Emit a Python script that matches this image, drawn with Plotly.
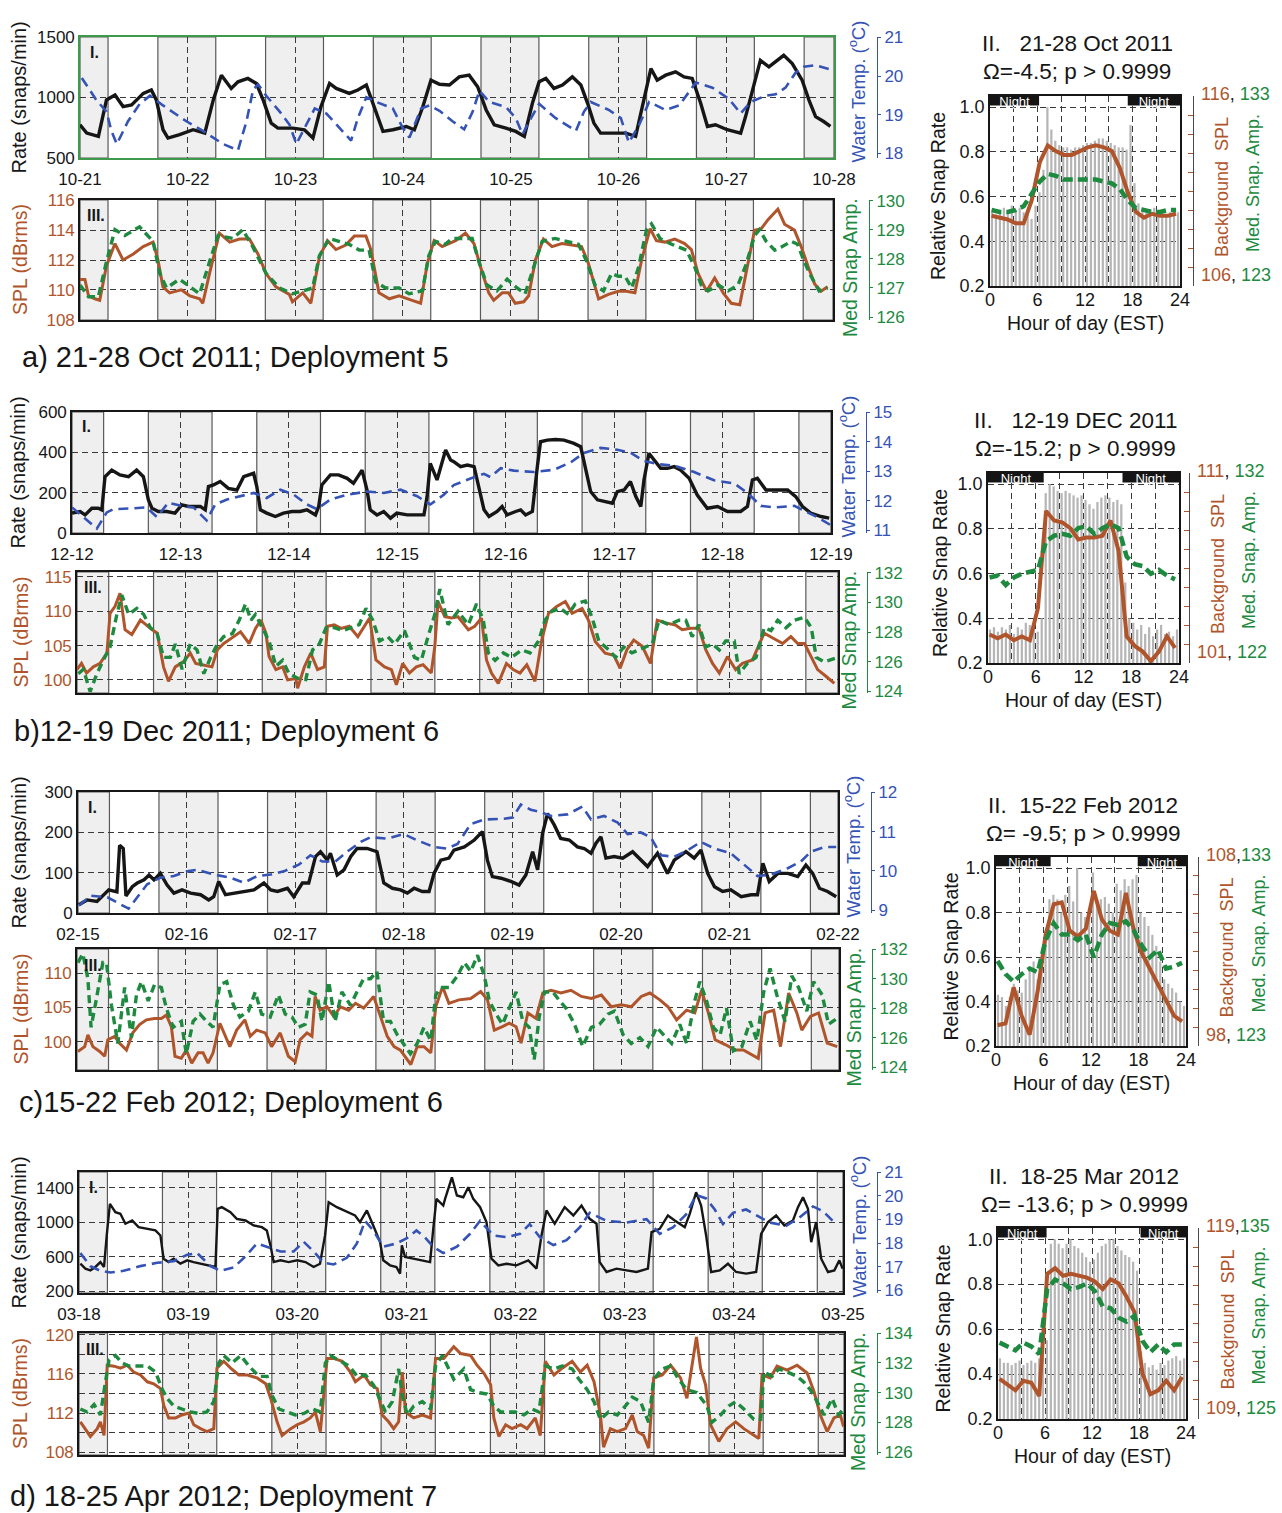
import numpy as np
import pandas as pd
import plotly.graph_objects as go

# ============================ DATA ============================
# time-series data: (hour since start of week, value)
A_TICKS = ["10-21", "10-22", "10-23", "10-24", "10-25", "10-26", "10-27", "10-28"]
B_TICKS = ["12-12", "12-13", "12-14", "12-15", "12-16", "12-17", "12-18", "12-19"]
C_TICKS = ["02-15", "02-16", "02-17", "02-18", "02-19", "02-20", "02-21", "02-22"]
D_TICKS = ["03-18", "03-19", "03-20", "03-21", "03-22", "03-23", "03-24", "03-25"]

A_RATE = [(0,774),(1.5,705),(4.1,678),(5.9,980),(7.8,1020),(9.6,925),(11.5,938),(14.1,1034),(15.9,1062),(17,980),(18.5,733),(19.6,664),(22.2,692),(25.2,733),(27.8,705),(29.7,980),(31.5,1185),(32.6,1130),(33.7,1075),(35.2,1130),(37.4,1158),(39.3,1116),(40.8,980),(42.6,788),(44.1,746),(47.4,746),(50,733),(51.9,664),(53.7,925),(55.6,1116),(57.1,1075),(60,1034),(61.9,1062),(63.8,1103),(66,870),(67.5,719),(69.7,733),(72.7,760),(74.5,733),(76.4,925),(78.2,1144),(80.1,1110),(82.3,1103),(84.5,1171),(86.7,1185),(88.6,1089),(90.5,897),(92.3,774),(94.9,746),(97.1,719),(99,678),(100.8,952),(102.3,1130),(103.8,1158),(105.6,1075),(107.5,1103),(109.7,1171),(111.6,1103),(113.1,952),(114.5,788),(116,705),(118.6,705),(121.6,705),(123.8,678),(125.7,980),(127.2,1240),(128.6,1144),(130.5,1185),(132.7,1212),(134.6,1171),(136.4,1158),(138.3,952),(139.8,760),(141.6,774),(144.2,733),(147.2,705),(148.3,842),(150.1,1103),(151.6,1308),(153.5,1253),(156.8,1349),(158.7,1281),(160.9,1144),(162.4,980),(163.9,842),(165.7,801),(167.2,760)]
A_TEMP = [(0.4,19.95),(3.7,19.37),(5.9,19.08),(7,18.58),(8.2,18.24),(10.7,18.83),(13.3,19.28),(15.6,19.49),(18.5,19.24),(23.7,18.83),(27.4,18.58),(31.9,18.24),(35.2,18.08),(37.1,18.83),(38.6,19.66),(39.7,19.78),(41.5,19.49),(44.5,19.08),(46.7,18.74),(48.2,18.24),(49.7,18.58),(52.3,19.16),(54.9,19.03),(57.8,18.66),(60.4,18.33),(61.9,18.91),(63.8,19.45),(66,19.33),(69.7,19.16),(71.9,18.66),(73.4,18.41),(76,19.16),(77.8,19.24),(80.1,19.1),(83,18.83),(85.6,18.62),(87.5,19.08),(89,19.62),(91.2,19.33),(94.9,19.2),(97.1,18.91),(98.6,18.49),(100.1,18.83),(102.3,19.28),(106,18.91),(110.5,18.58),(112.3,19.08),(113.8,19.33),(117.9,19.12),(120.5,18.91),(122.3,18.28),(124.6,18.74),(126.8,19.33),(130.5,19.12),(133.5,19.24),(137.2,19.83),(140.9,19.7),(144.6,19.41),(147.2,19.03),(149.4,19.33),(152.7,19.49),(155,19.53),(157.2,19.7),(159.4,20.08),(161.3,20.24),(163.9,20.28),(167.6,20.16)]
A_SPL = [(0,110.7),(1.1,110.7),(1.9,109.6),(3.3,109.4),(4.4,109.3),(5.9,111.6),(7.8,113.1),(9.6,112),(11.9,112.4),(14.1,112.9),(16.3,113.2),(17.4,112),(18.5,110.2),(20,109.8),(22.6,110),(24.5,109.6),(26.7,109.4),(27.4,109.1),(28.9,111.1),(31.1,113.8),(33.4,113.2),(35.6,113.4),(37.8,113.4),(39.7,112.4),(41.5,111.1),(43.7,110.2),(46.7,109.7),(47.4,109.2),(49.7,109.8),(51.5,109.1),(53.4,112.2),(55.2,113.3),(57.1,112.7),(59.3,113),(61.2,113.6),(63.8,113.6),(64.9,112.7),(66.7,109.8),(69,109.4),(71.2,109.6),(74.1,109.3),(76,109.1),(77.5,111.8),(79,113.3),(80.8,112.9),(83.8,113.3),(86,113.8),(87.9,113.1),(89.3,111.6),(91.2,109.8),(92.3,109.3),(94.2,109.8),(95.6,109.8),(97.1,109.1),(99,109.2),(100.1,109.6),(101.6,112),(103.4,113.4),(105.3,112.9),(107.5,113.1),(109.7,113),(111.9,112.9),(113.4,111.8),(114.9,110.2),(115.7,109.4),(117.9,109.7),(120.1,109.9),(121.9,109.9),(123.8,109.8),(125.3,112),(127.2,114.1),(128.6,113.3),(130.5,113.2),(132.7,113.4),(134.9,113.1),(136.4,112.7),(137.9,111.1),(139.8,109.9),(141.6,110.8),(143.5,109.8),(145.3,109.1),(147.2,109),(148.6,111.1),(150.5,114),(152,114.1),(153.5,114.7),(155.7,115.4),(157.2,114.4),(159.4,114),(160.9,112.9),(162.4,111.6),(163.9,110.4),(165.3,109.9),(166.8,110.2)]
A_AMP = [(0,127.1),(1.9,126.7),(4.1,126.7),(5.9,127.9),(7.8,129),(10,128.8),(13.3,129.1),(16.3,128.6),(17.8,127.5),(19.3,127),(22.2,127.3),(24.1,127.1),(26.7,126.8),(28.9,127.9),(30.8,128.8),(34.1,128.7),(36.3,129),(38.6,128.4),(41.5,127.5),(44.5,127),(47.4,126.8),(49.7,126.9),(51.9,127),(53.4,128.1),(55.6,128.7),(57.8,128.6),(60,128.5),(62.3,128.3),(64.5,128.3),(66,127.2),(68.2,127),(71.2,127),(73.4,126.8),(76.4,126.9),(77.8,128.1),(79.3,128.6),(81.5,128.5),(83,128.7),(87.5,128.7),(89,127.9),(90.8,127.1),(93,126.9),(95.3,127.3),(97.5,127),(99.3,126.8),(101.2,127.7),(103.1,128.6),(106,128.7),(109,128.6),(111.2,128.5),(113.1,127.9),(114.9,127.1),(116.8,126.9),(118.6,127.5),(120.1,127.4),(121.6,127.4),(123.1,127),(124.6,127.7),(126.4,129),(127.5,129.2),(129.4,128.7),(132,128.5),(135.3,128.3),(137.2,127.7),(138.6,127.1),(140.1,126.9),(142.4,127.1),(144.6,126.9),(146.8,127.1),(148.6,127.8),(150.5,128.8),(151.6,129),(153.1,128.6),(155,128.3),(156.4,128.4),(158.7,128.6),(160.1,128.5),(161.6,127.9),(163.1,127.4),(164.9,126.9),(166.8,127)]

B_RATE = [(0,98),(1.8,106),(2.9,89),(4.4,122),(5.8,122),(6.6,114),(7.3,279),(8.8,312),(10.6,288),(12.5,279),(14.3,312),(15.8,279),(16.9,164),(17.7,122),(19.1,106),(21,106),(22.8,98),(24.3,139),(25.8,131),(28.4,131),(29.5,114),(30.2,230),(31.3,238),(32.8,255),(34.6,221),(36.5,213),(38,279),(40.2,296),(40.9,230),(41.7,114),(43.1,98),(45,81),(46.8,98),(48.7,106),(50.5,106),(52,114),(53.9,89),(54.6,131),(55.3,238),(57.2,288),(59,288),(60.9,271),(62.3,246),(64.2,312),(65.3,213),(66,114),(67.5,89),(69,106),(70.5,73),(71.9,98),(74.2,89),(77.9,89),(78.6,180),(79.3,345),(80.8,263),(82.7,412),(83.8,362),(84.5,354),(86,329),(87.5,337),(89,329),(90.1,213),(91.2,114),(92.3,81),(94.1,106),(95.2,131),(96.3,89),(98.2,106),(99.3,114),(100.4,89),(101.9,106),(103,329),(103.7,453),(105.2,461),(107,464),(108.9,461),(111.1,445),(112.6,428),(113.7,312),(114.8,205),(116.3,164),(117.7,155),(119.6,147),(120.7,205),(122.2,213),(123.6,255),(124.8,180),(125.9,131),(126.6,263),(127.7,395),(128.8,362),(130.3,321),(131.8,321),(133.3,329),(134.7,312),(136.6,271),(138.4,188),(140.6,122),(142.9,131),(145.1,106),(148,106),(149.5,131),(150.6,263),(151.7,271),(153.6,213),(155.4,213),(158.4,213),(160.2,180),(161.7,131),(163.5,98),(165.8,81),(167.6,73)]
B_TEMP = [(0,11.77),(2.1,11.5),(4,11.27),(5.5,11.05),(7.7,11.6),(9.2,11.71),(13.6,11.74),(16.5,11.77),(18.8,11.44),(21.3,11.93),(24.3,11.82),(26.9,11.77),(29.8,11.33),(31.7,11.87),(34.3,12.04),(37.2,12.15),(40.2,12.26),(43.1,12.09),(46.1,12.37),(49.1,12.2),(52,11.87),(54.2,11.71),(57.2,12.04),(60.9,12.2),(65.3,12.31),(69,12.26),(72.7,12.37),(76.4,12.15),(79.3,11.87),(82.3,12.2),(84.5,12.53),(88.2,12.75),(91.2,12.91),(92.6,12.8),(94.9,13.1),(97.8,13.02),(102.2,12.97),(106.7,13.05),(110.4,13.3),(113.3,13.62),(117,13.79),(120.7,13.73),(123.7,13.62),(126.6,13.35),(129.6,13.24),(133.3,13.19),(137.7,12.97),(142.1,12.69),(146.6,12.58),(149.5,12.26),(152.5,11.82),(155.4,11.77),(159.9,11.82),(162.8,11.6),(165,11.44),(168,11.16)]
B_SPL = [(0,101.5),(1,102.4),(2.1,101),(3.6,101.9),(5.1,102.4),(6.6,103.9),(7.3,109.7),(8.4,110.7),(9.5,112.6),(10.6,107.3),(12.1,106.6),(14,108.7),(16.2,107.5),(17.7,106.8),(19.1,101.9),(20.2,99.8),(21.7,101.9),(23.6,102.7),(25,103.9),(26.2,102.4),(27.6,102.2),(29.8,101.9),(31,104.4),(32.4,105.3),(34.6,106.3),(36.1,107),(38,105.3),(39.4,107.5),(40.6,108.7),(41.7,106.8),(42.4,103.4),(43.9,101.5),(45.4,101.9),(46.5,100),(48.3,100.2),(48.7,98.8),(50.2,101.9),(51.6,103.9),(53.1,101.5),(54.6,101.9),(55.3,107.8),(56.8,108),(58.3,107.5),(60.1,107.8),(62,106.3),(63.5,107.8),(64.6,109),(66,102.9),(67.9,101.9),(69.4,101.5),(70.5,99.3),(71.9,102.4),(73.4,101),(74.9,101.9),(76.4,102.2),(78.2,101),(79,104.9),(79.7,111.4),(81.2,109.2),(82.7,109),(84.1,109.2),(86.4,107.3),(87.8,107.8),(89.3,109),(90.4,102.9),(91.5,101),(93,99.5),(94.8,102.4),(96.3,101.5),(97.8,101),(99.3,102.2),(101.1,99.8),(102.6,105.8),(104.1,109.7),(105.9,110.7),(107.8,111.4),(109.3,109.7),(111.5,110.4),(112.9,108.7),(114.4,105.6),(116.6,103.9),(118.5,103.6),(119.9,101.7),(121.4,104.4),(122.9,105.8),(124.8,104.9),(126.6,102.4),(128.1,108.7),(129.9,108.3),(132.1,108),(133.6,107.3),(135.5,107.5),(137.3,107.5),(138.8,104.4),(140.3,102.4),(141.8,101),(143.6,103.4),(145.4,101.5),(146.9,102.4),(149.1,102.9),(151.7,106.8),(153.6,106.1),(155.8,105.3),(157.6,106.3),(159.1,105.3),(160.6,105.3),(162.1,103.4),(163.5,101.5),(165.4,100.5),(167.2,99.5)]
B_AMP = [(0.3,125.2),(1.4,125.5),(2.9,124),(4.4,125.2),(5.8,126.1),(7.3,127),(8.8,129.2),(9.9,130.5),(11.4,129.2),(13.2,129.6),(14.7,129.2),(16.2,128.3),(17.7,127.9),(19.1,126.3),(20.6,126.3),(21.7,127.2),(23.2,125.5),(25,127.2),(26.5,126.8),(28,125.2),(29.5,126.3),(31,127.2),(32.4,127.7),(34.3,127.9),(35.8,128.8),(37.2,129.9),(38.4,128.8),(39.4,129.2),(40.9,128.3),(42.4,127.4),(43.9,125.7),(45.4,126.1),(46.8,125.2),(48.7,124.9),(50.5,124.8),(52,126.8),(53.5,127.2),(55,128.3),(56.8,128.3),(58.7,128.1),(60.5,128.3),(62.3,128.5),(63.8,129.6),(65.3,128.8),(66.8,127.4),(68.6,127.7),(70.1,127.2),(72.3,128.1),(74.5,126.3),(76,126.1),(77.5,127.7),(79,129.2),(80.1,130.9),(81.9,128.5),(84.1,129.4),(86.4,128.5),(88.2,129.9),(89.7,128.8),(90.8,126.6),(92.3,126.1),(94.1,126.6),(95.9,126.3),(98.2,126.8),(100,126.6),(101.9,127.4),(103.3,128.8),(104.8,129.4),(106.7,129.6),(108.5,129.2),(110,129.9),(112.2,130.1),(113.7,129),(115.2,127.4),(117.4,126.8),(118.9,126.3),(120.7,127),(122.5,126.6),(124,126.8),(125.5,127),(127,127.2),(128.5,128.8),(130.7,128.5),(132.9,128.8),(134.4,128.8),(135.8,127.7),(137.3,128.5),(138.8,127),(140.3,127.2),(141.8,126.8),(143.2,127.4),(145.1,127.4),(146.2,125.2),(148,125.9),(149.9,126.3),(151.7,128.3),(153.2,128.1),(154.7,128.8),(156.5,128.3),(158.4,128.8),(160.6,129),(162.1,128.3),(163.2,126.3),(165,126),(168,126.3)]

C_RATE = [(0.2,20),(2,32),(4.2,28),(6.1,49),(6.8,57),(8.6,52),(9.2,168),(10,160),(10.6,42),(12,65),(13.1,74),(14.6,82),(15.7,94),(16.8,82),(18.2,98),(19.7,69),(21.2,49),(23,57),(24.9,49),(27.1,45),(28.9,32),(30,40),(31.1,78),(32.6,45),(34.5,49),(36.7,53),(38.9,57),(41.1,74),(42.6,57),(44.1,53),(46.3,61),(47.7,40),(49.6,74),(51,74),(52.5,140),(53.6,152),(55.1,131),(55.8,148),(57.3,94),(58.8,107),(60.3,140),(61.7,160),(63.9,160),(66.1,152),(67.6,74),(69.5,61),(71.3,57),(72.8,49),(74.3,61),(76.1,53),(77.6,53),(78.7,98),(80.2,131),(82,136),(83.1,156),(85.4,164),(87.6,181),(89.4,202),(90.5,131),(91.6,90),(93.5,86),(95.7,78),(97.5,69),(99,94),(100.5,152),(101.6,107),(102.7,198),(103.8,247),(105.3,218),(106.7,185),(108.6,181),(110.4,164),(111.9,160),(113.4,148),(114.5,173),(115.6,189),(116.7,136),(118.5,140),(120.4,136),(122.6,152),(124.4,131),(125.9,115),(128.1,148),(130.3,98),(131.8,131),(134.4,152),(136.2,136),(137.7,156),(139.2,98),(140.7,65),(142.5,53),(144.3,57),(146.6,40),(148.8,45),(150.2,45),(151.4,123),(152.8,78),(154.7,98),(156.9,98),(159.1,90),(160.9,119),(162.4,98),(163.9,61),(165.7,53),(167.6,40)]
C_TEMP = [(0.2,9.12),(2.8,9.37),(6.5,9.33),(9,9.17),(11.2,9.04),(13.1,9.33),(15.3,9.66),(18.2,9.83),(21.2,9.87),(24.1,9.99),(26.4,10.03),(30,9.91),(33.7,9.83),(36.7,9.7),(39.6,9.87),(42.6,9.91),(45.5,9.99),(48.8,10.16),(51.4,10.4),(54,10.24),(56.9,10.24),(59.5,10.49),(62.5,10.74),(64.7,10.86),(68.4,10.82),(72,10.94),(75,10.78),(78.7,10.61),(81.6,10.57),(83.9,10.69),(86.8,11.19),(89.8,11.31),(94.2,11.33),(96.1,11.36),(97.9,11.69),(100.1,11.56),(102.3,11.5),(104.5,11.4),(108.2,11.44),(111.5,11.64),(113.4,11.31),(116.3,11.4),(119.3,11.23),(121.5,10.94),(124.4,10.98),(126.6,10.86),(128.9,10.4),(131.8,10.36),(134.8,10.53),(137.7,10.74),(140.7,10.57),(144.3,10.45),(147.3,10.16),(150.2,9.87),(153.2,9.91),(156.9,10.07),(159.8,10.24),(162,10.49),(165,10.61),(167.6,10.61)]
C_SPL = [(0.2,98.6),(1.7,99.3),(2.4,101),(3.5,99.3),(5,98.6),(6.1,97.9),(6.8,100.3),(8.3,100.8),(9.4,99.8),(10.9,98.8),(12.3,101.3),(13.8,102.5),(15.3,103.2),(17.1,103.4),(18.6,103.4),(19.7,103.9),(20.8,102.2),(21.6,97.9),(23,97.6),(24.1,98.8),(25.3,96.9),(26.7,98.4),(27.8,98.4),(28.9,96.9),(30,98.4),(31.5,102.7),(33.7,99.3),(35.2,101.7),(37,103.2),(38.2,100.8),(39.6,101.7),(41.5,101.3),(42.9,99.3),(44.8,101.3),(46.6,97.9),(48.1,97.1),(49.2,100.3),(50.7,101.3),(51.8,100.8),(52.5,106.6),(53.6,104.6),(55.1,105.1),(56.6,103.7),(58.1,105.1),(59.9,104.6),(61.4,105.6),(63.2,104.9),(65.4,106.6),(66.9,103.7),(68.4,100.8),(69.9,99.3),(71.3,98.8),(73.6,96.7),(75,99.3),(76.5,99.3),(78,98.4),(79.1,105.1),(80.6,108),(82,105.6),(84.2,106.1),(86.8,106.3),(89,107.3),(90.5,106.1),(92,101.7),(93.8,102.2),(95.3,102.7),(96.8,102.2),(97.9,99.8),(99.4,104.2),(101.2,103.4),(102.7,107.1),(104.5,107.5),(106.7,107.1),(108.9,107.5),(111.2,106.6),(113.4,106.3),(115.6,106.8),(117.8,105.1),(120,105.4),(122.2,105.1),(124.4,106.6),(126.3,107.1),(128.5,106.1),(130.3,105.1),(132.2,103.2),(134.4,104.6),(136.2,104.2),(137.7,107.5),(139.2,104.2),(140.7,100.3),(142.9,99.6),(145.1,98.8),(146.9,98.8),(148.8,98.1),(150.2,97.6),(151.7,104.2),(153.6,104.6),(155.1,99.3),(156.9,107.1),(158.7,104.2),(159.8,101.7),(161.7,103.7),(163.5,104.2),(165.4,99.8),(167.6,99.3)]
C_AMP = [(0.2,131.1),(1.3,131.7),(2.4,130),(3.1,126.7),(4.2,128.5),(5.7,131.1),(6.5,131.1),(7.6,128.2),(9,125.6),(10.5,129.4),(12,126),(13.1,128.9),(14.2,129.8),(15.7,128.5),(17.1,129.6),(18.6,129.4),(19.7,128),(21.2,126.7),(23,127.1),(24.1,124.9),(25.6,127.1),(27.1,127.6),(28.6,127.1),(30,126.7),(31.5,129.6),(33,129.8),(34.5,128.2),(35.9,127.4),(37.8,127.8),(39.3,129.1),(40.7,127.6),(42.6,127.4),(44.4,128.9),(45.9,127.6),(47.4,127.4),(48.8,126.7),(50.3,126.9),(51.4,129.1),(52.9,128.9),(54,127.1),(55.5,129.8),(56.9,127.1),(58.4,129.1),(60.3,128.2),(61.7,129.1),(63.2,130),(64.7,130),(66.1,130.5),(67.6,127.1),(69.1,127.1),(70.6,126.2),(72,125.6),(73.5,124.9),(75,125.6),(76.5,126.7),(78,125.8),(79.1,128.9),(80.2,129.4),(82,129.4),(83.9,130.2),(85.4,131.1),(86.8,130.5),(88.3,131.6),(89.8,130.2),(90.9,128.5),(92.4,127.6),(93.8,126.9),(95.3,128),(96.8,129.1),(98.3,127.1),(99.7,126.7),(100.8,124.5),(101.9,127.4),(103.1,129.1),(104.9,129.1),(106.4,128.5),(107.8,128),(109.7,126.9),(111.5,125.4),(113.4,126.7),(115.2,126.9),(117.1,127.6),(118.5,127.8),(120.4,126.2),(122.2,125.6),(124.1,126),(125.9,125.4),(127.8,126.7),(129.2,126.2),(131.1,125.6),(132.9,126.9),(134.4,125.6),(136.2,128.5),(137.3,129.8),(138.8,128.5),(140.3,126.7),(141.8,126.2),(143.2,128),(144.7,125.1),(146.6,125.4),(148.4,127.1),(149.9,125.8),(151.4,129.1),(152.8,130.7),(154.3,128.9),(156.1,127.1),(157.6,130.2),(159.1,129.4),(160.9,127.8),(162.4,129.8),(164.3,128.9),(165.7,126.9),(168,127.4)]

D_RATE = [(0.3,519),(1.4,462),(2.5,442),(3.6,481),(4.7,538),(5.5,481),(6.1,846),(6.8,1212),(8,1115),(9.1,1096),(10.2,981),(11.7,1019),(13.1,942),(15,923),(16.8,904),(17.9,846),(18.6,577),(19.7,538),(20.8,577),(22.3,519),(23.8,558),(25.2,538),(26.7,519),(28.1,500),(30,481),(30.5,1154),(31.4,1173),(33.3,1115),(34.7,1038),(36.6,1019),(38.4,962),(40.2,942),(41.3,904),(42.1,731),(42.8,538),(44.3,558),(46.1,538),(48,558),(49.8,538),(51.6,481),(53,519),(54.1,846),(54.9,1231),(56.7,1173),(58.9,1115),(60.7,1077),(61.8,1000),(63.3,1135),(64.7,962),(66.2,769),(66.9,558),(68.4,500),(69.8,481),(70.6,404),(71,731),(71.7,596),(73.5,577),(75.4,558),(77.2,538),(77.9,923),(78.6,1269),(80.1,1192),(80.5,1269),(82,1519),(83.1,1308),(84.5,1288),(85.6,1404),(86.7,1269),(88.2,1173),(89.6,1000),(90.7,577),(92.2,500),(94,519),(96.2,500),(98.8,558),(100.6,462),(101.7,846),(102.8,1135),(104.6,981),(106.8,1173),(108.7,1077),(110.5,1192),(112.3,1038),(113.8,981),(114.5,538),(116,423),(118.2,462),(120.4,442),(122.6,423),(125.1,462),(125.9,885),(127.7,923),(129.5,1077),(131,1019),(133.2,942),(134.3,1096),(135.7,1346),(136.8,1192),(137.9,846),(139,423),(140.9,442),(142.7,519),(144.5,423),(146.7,404),(148.9,423),(150,865),(151.5,1000),(153.3,1077),(155.1,962),(157,1019),(158.1,1173),(159.2,1288),(160.3,1154),(161,769),(162.1,1000),(163.2,577),(164.7,423),(166.1,442),(167.2,558),(167.9,462)]
D_TEMP = [(0.3,17.57),(2.5,17.02),(4.7,16.82),(6.9,16.75),(9.8,16.82),(13.5,17.02),(17.2,17.16),(20.8,17.23),(23.8,17.5),(26,17.57),(28.9,17.02),(31.1,16.82),(34,16.96),(36.6,17.43),(39.1,17.98),(41.3,17.84),(44.3,17.64),(47.2,17.64),(49.4,18.05),(51.6,17.64),(53.8,17.16),(56,17.09),(58.9,17.37),(61.1,17.98),(62.9,18.94),(64.7,18.53),(66.9,17.84),(69.8,17.98),(72,18.19),(74.2,18.53),(76,18.25),(77.9,17.84),(80.1,17.57),(83.1,17.84),(86,18.39),(88.2,18.94),(91.1,18.32),(94,18.25),(97,18.39),(99.1,18.8),(101.3,18.25),(104.3,17.91),(107.2,18.12),(110.1,18.66),(112.3,19.28),(116,18.94),(120.4,18.87),(124.8,19.01),(127.7,18.39),(130.6,18.66),(133.5,19.21),(135.7,20.03),(137.9,19.89),(139.8,19.42),(141.6,18.8),(143.8,19.28),(146.7,19.42),(149.3,19.14),(151.8,18.87),(155.5,18.73),(158.4,19.07),(161.4,19.55),(163.6,19.35),(166.1,18.87)]
D_SPL = [(0.3,111.1),(1.4,110.4),(2.5,109.6),(4,110.4),(4.7,111.1),(5.5,109.7),(6.2,116.9),(7.7,116.8),(9.1,116.6),(10.6,116.9),(12,116.2),(13.5,115.9),(15,115.2),(16.4,115),(17.9,114.5),(18.6,112.8),(19.7,111.5),(21.2,111.5),(22.6,111.8),(24.1,112),(25.2,110.8),(26.7,110.4),(28.1,110.1),(29.6,110.4),(30.3,116.6),(31.8,117.3),(33.3,116.6),(35.1,115.9),(37,115.9),(39.1,115.6),(41,115),(42.1,113.5),(43.5,111.1),(44.6,109.7),(46.5,110.4),(47.9,110.8),(49.4,111.1),(50.8,111.5),(51.9,112.1),(53,110.1),(54.5,117.6),(56,117.6),(57.8,117.3),(59.6,116.2),(60.7,115.2),(62.6,115.9),(64,114.9),(65.5,114.5),(66.6,111.8),(68,111.1),(69.1,110.4),(70.2,111.1),(71,116.2),(71.7,112.1),(73.5,111.5),(75.4,111.8),(77.2,111.5),(78.3,117.6),(80.1,117.6),(82.3,118.8),(83.8,118.1),(86,117.9),(87.4,116.9),(88.9,116.1),(90.4,114.9),(91.1,111.5),(92.2,109.6),(93.7,110.8),(95.1,110.4),(97,110.8),(98.4,110.4),(100.2,111.5),(101.3,109.7),(102.4,117.3),(104.3,115.9),(106.1,116.6),(108.3,117.3),(110.1,116.2),(111.6,116.9),(113.1,115.2),(114.5,111.8),(115.2,108.5),(116.7,110.4),(118.2,110.1),(120,110.4),(121.5,111.8),(122.6,110.1),(124,109.7),(125.1,108.4),(126.2,115.6),(128.1,115.9),(129.9,116.9),(132.1,115.6),(133.5,113.5),(134.6,116.6),(135.6,119.8),(136.5,116.6),(137.6,114.9),(138.7,110.8),(140.5,109.1),(142.3,110.4),(144.2,111.1),(146,110.4),(148.2,109.7),(149.3,109.4),(150,115.9),(151.8,115.6),(153.3,116.8),(155.5,116.4),(157.7,116.9),(159.9,116.1),(161.4,114.2),(162.8,111.8),(164.3,110.1),(165.8,111.5),(167.2,111.8),(167.9,110.6)]
D_AMP = [(0.3,128.9),(1.8,128.7),(3.3,129.2),(4.7,128.5),(5.8,130.7),(6.6,132.2),(8,132.5),(9.5,132),(10.9,131.8),(12.8,131.8),(15,131.8),(16.8,131.4),(18.3,130.2),(19.4,129.6),(20.8,129.1),(22.6,128.9),(24.5,128.7),(26.3,128.6),(28.1,128.7),(29.6,129.4),(30.7,132),(31.8,132.5),(33.6,132),(35.5,132.5),(37.3,131.8),(39.5,131.1),(41.3,131.1),(42.4,129.8),(43.9,128.9),(45.7,128.7),(47.5,128.5),(49.4,128.6),(51.2,128.9),(53,128.7),(54.1,132),(55.2,132.5),(57.1,132.2),(59.3,131.8),(61.1,131.1),(62.9,131.2),(64.7,130.5),(66.2,129.4),(67.3,128.7),(68.8,129.4),(70.2,131.6),(71,129.8),(72.1,128.5),(73.5,129.1),(75.4,129.4),(77.2,128.9),(78.3,131.8),(79.8,132.5),(81.3,131.6),(82.3,130.9),(84.5,131.6),(86,130.2),(87.8,130),(89.6,129.9),(91.1,129.1),(92.6,128.7),(94,128.7),(95.8,128.7),(97.7,128.5),(99.5,128.9),(101,128.7),(102.4,131.8),(104.3,131.6),(106.1,131.8),(108.3,131.6),(109.8,130.9),(111.6,130.2),(113.1,129.4),(114.5,128.2),(116.3,128.7),(118.2,128.5),(120,129.1),(121.5,129.7),(123.3,129.4),(125.1,128),(126.2,130.9),(128.1,131.6),(129.9,131.8),(131.7,130.9),(133.5,130.2),(135.7,130),(137.9,129.1),(139,128),(140.9,128.5),(142.7,129.1),(144.2,129.4),(146,128.9),(148.2,128.2),(149.7,128.2),(150.4,131.4),(152.2,131.1),(153.7,131.6),(155.5,131.4),(157.7,131.1),(159.2,130.7),(160.6,130.2),(162.1,129.4),(163.6,128.5),(165.4,129.6),(166.8,128.5),(167.9,128.9)]

# daily-cycle panels (II): 48 half-hour relative snap-rate bars, hourly SPL and amplitude
A_BARS = [0.53,0.52,0.54,0.55,0.53,0.56,0.54,0.55,0.53,0.52,0.50,0.56,0.62,0.72,1.00,0.90,0.85,0.83,0.82,0.82,0.81,0.82,0.82,0.83,0.84,0.84,0.85,0.86,0.86,0.85,0.84,0.83,0.82,0.82,0.81,0.92,0.66,0.57,0.55,0.54,0.53,0.55,0.53,0.54,0.52,0.53,0.54,0.53]
B_BARS = [0.35,0.36,0.34,0.36,0.35,0.37,0.33,0.36,0.35,0.38,0.37,0.36,0.34,0.40,0.96,1.00,0.99,0.97,0.96,0.97,0.96,0.95,0.94,0.95,0.93,0.91,0.89,0.92,0.94,0.95,0.94,0.92,0.93,0.91,0.56,0.40,0.38,0.35,0.37,0.33,0.36,0.32,0.35,0.37,0.33,0.34,0.32,0.35]
C_BARS = [0.43,0.42,0.38,0.42,0.48,0.45,0.44,0.50,0.55,0.58,0.50,0.60,0.72,0.86,0.88,0.86,0.80,0.88,0.92,0.85,1.00,0.80,0.78,0.82,0.98,0.84,0.86,0.87,0.84,0.80,0.93,0.90,0.95,0.92,0.95,0.97,0.80,0.78,0.74,0.70,0.65,0.58,0.50,0.48,0.46,0.44,0.40,0.38]
D_BARS = [0.47,0.45,0.45,0.44,0.45,0.46,0.44,0.45,0.46,0.45,0.47,0.50,0.55,0.98,1.00,0.98,0.96,0.98,1.00,0.97,0.96,0.94,0.92,0.90,0.91,0.94,0.97,0.98,1.00,1.00,0.97,0.95,0.93,0.92,0.90,0.86,0.50,0.45,0.43,0.44,0.42,0.45,0.44,0.46,0.47,0.48,0.46,0.47]

A_HOUR_SPL = [109.7,109.6,109.5,109.3,109.3,110.5,112.5,113.4,113.1,112.9,112.9,113.1,113.3,113.4,113.3,113.1,112.2,110.9,109.9,109.6,109.8,109.7,109.7,109.8]
A_HOUR_AMP = [127.0,126.9,126.9,127.0,127.2,127.9,128.5,128.9,128.8,128.6,128.6,128.6,128.6,128.6,128.5,128.4,128.1,127.5,127.1,127.0,126.9,126.9,127.0,127.0]
B_HOUR_SPL = [102.5,102.3,102.5,102.2,102.4,102.2,103.9,109.0,108.5,108.4,108.1,107.5,107.6,107.6,107.7,108.5,106.9,102.4,101.9,101.6,101.1,101.6,102.4,101.8]
B_HOUR_AMP = [126.5,126.6,126.1,126.5,126.7,126.8,126.9,128.4,128.7,128.8,128.7,129.1,129.2,128.8,129.1,129.3,129.1,127.6,127.2,127.1,126.7,126.9,126.6,126.4]
C_HOUR_SPL = [99.1,99.2,101.1,99.6,98.6,100.9,103.9,105.5,105.6,104.1,103.8,104.2,106.2,104.7,104.1,103.9,106.1,104.1,102.9,102.1,101.3,100.4,99.6,99.3]
C_HOUR_AMP = [127.5,126.8,126.4,126.8,127.1,126.9,128.6,129.5,128.9,128.9,128.6,128.9,127.7,128.9,129.5,129.4,129.6,129.1,128.3,127.7,128.1,127.1,127.2,127.4]
D_HOUR_SPL = [111.1,110.8,110.5,111.0,110.9,110.2,116.6,116.9,116.5,116.6,116.5,116.4,116.2,115.8,116.3,116.1,115.4,114.6,111.4,110.3,110.5,111.0,110.5,111.2]
D_HOUR_AMP = [129.0,128.8,128.6,129.0,128.8,128.4,131.8,132.3,132.1,131.8,131.9,132.1,131.7,130.9,130.8,130.3,130.1,130.4,129.1,128.5,128.9,128.5,128.9,128.9]

HOUR_TICKS = [0, 6, 12, 18, 24]
HOUR_TEXT = ["0", "6", "12", "18", "24"]
REL_TICKS = [0.2, 0.4, 0.6, 0.8, 1.0]
REL_TEXT = ["0.2", "0.4", "0.6", "0.8", "1.0"]

# ============================ STYLE / LAYOUT ============================
W, H = 1282, 1513
FONT = "Liberation Sans, Arial, Helvetica, sans-serif"
INK = "#161616"
BLUE = "#3553b5"
BROWN = "#b0552b"
GREEN = "#1d8a3f"
NIGHT_FILL = "#efefef"
GRID = "#3a3a3a"
GDASH = "6px,4px"

def fx(p):
    return p / W

def fy(p):
    return 1.0 - p / H

ROWS = [
    dict(start="2011-10-21", ticks=A_TICKS, rate=A_RATE, temp=A_TEMP, spl=A_SPL, amp=A_AMP,
         bars=A_BARS, hspl=A_HOUR_SPL, hamp=A_HOUR_AMP, sunrise=6.25, sunset=17.35,
         I=(80, 834, 37, 158), III=(80, 833, 200, 320), II=(990, 1180, 96, 286),
         frame="#3d9a4c", rate_range=(499, 1501), rate_ticks=[500, 1000, 1500],
         temp_range=(17.88, 21.01), temp_ticks=[18, 19, 20, 21], temp_pos=877,
         spl_range=(107.98, 116.02), spl_ticks=[108, 110, 112, 114, 116], spl_minor=None,
         amp_range=(125.9, 130.02), amp_ticks=[126, 127, 128, 129, 130], amp_pos=869,
         ii_pos=1193, ii_spl=(106, 116), ii_amp=(123, 133), night=[(0, 6.2), (17.4, 24)],
         t1="II.\u00a0\u00a0 21-28 Oct 2011", t2="\u03a9=-4.5; p > 0.9999",
         top=("116", "133", ", "), bot=("106", "123", ", "),
         label="a) 21-28 Oct 2011; Deployment 5", label_xy=(20, 357), rel_x=938, rate_w=3.4),
    dict(start="2011-12-12", ticks=B_TICKS, rate=B_RATE, temp=B_TEMP, spl=B_SPL, amp=B_AMP,
         bars=B_BARS, hspl=B_HOUR_SPL, hamp=B_HOUR_AMP, sunrise=7.0, sunset=16.9,
         I=(72, 831, 412, 533), III=(77, 838, 572, 693), II=(988, 1179, 473, 663),
         frame=INK, rate_range=(-1, 601), rate_ticks=[0, 200, 400, 600],
         temp_range=(10.9, 15.01), temp_ticks=[11, 12, 13, 14, 15], temp_pos=866,
         spl_range=(98.1, 115.7), spl_ticks=[100, 105, 110, 115], spl_minor=None,
         amp_range=(123.9, 132.05), amp_ticks=[124, 126, 128, 130, 132], amp_pos=867,
         ii_pos=1189, ii_spl=(101, 111), ii_amp=(122, 132), night=[(0, 7.0), (16.9, 24)],
         t1="II.\u00a0\u00a0 12-19 DEC 2011", t2="\u03a9=-15.2; p > 0.9999",
         top=("111", "132", ", "), bot=("101", "122", ", "),
         label="b)12-19 Dec 2011; Deployment 6", label_xy=(12, 731), rel_x=940, rate_w=3.4),
    dict(start="2012-02-15", ticks=C_TICKS, rate=C_RATE, temp=C_TEMP, spl=C_SPL, amp=C_AMP,
         bars=C_BARS, hspl=C_HOUR_SPL, hamp=C_HOUR_AMP, sunrise=6.95, sunset=17.9,
         I=(78, 838, 792, 913), III=(77, 839, 949, 1070), II=(996, 1186, 857, 1046),
         frame=INK, rate_range=(-0.5, 300.5), rate_ticks=[0, 100, 200, 300],
         temp_range=(8.93, 12.01), temp_ticks=[9, 10, 11, 12], temp_pos=871,
         spl_range=(95.9, 113.5), spl_ticks=[100, 105, 110], spl_minor=None,
         amp_range=(123.8, 132.02), amp_ticks=[124, 126, 128, 130, 132], amp_pos=872,
         ii_pos=1198, ii_spl=(98, 108), ii_amp=(123, 133), night=[(0, 6.9), (17.9, 24)],
         t1="II.\u00a0 15-22 Feb 2012", t2="\u03a9= -9.5; p > 0.9999",
         top=("108", "133", ","), bot=("98", "123", ", "),
         label="c)15-22 Feb 2012; Deployment 6", label_xy=(17, 1102), rel_x=950, rate_w=3.4),
    dict(start="2012-03-18", ticks=D_TICKS, rate=D_RATE, temp=D_TEMP, spl=D_SPL, amp=D_AMP,
         bars=D_BARS, hspl=D_HOUR_SPL, hamp=D_HOUR_AMP, sunrise=6.25, sunset=18.35,
         I=(79, 843, 1172, 1293), III=(79, 844, 1333, 1455), II=(998, 1186, 1228, 1419),
         frame=INK, rate_range=(180, 1580), rate_ticks=[200, 600, 1000, 1400],
         temp_range=(15.88, 21.01), temp_ticks=[16, 17, 18, 19, 20, 21], temp_pos=877,
         spl_range=(107.7, 120.2), spl_ticks=[108, 112, 116, 120], spl_minor=[110, 114, 118],
         amp_range=(125.8, 134.02), amp_ticks=[126, 128, 130, 132, 134], amp_pos=877,
         ii_pos=1198, ii_spl=(109, 119), ii_amp=(125, 135), night=[(0, 6.2), (18.2, 24)],
         t1="II.\u00a0 18-25 Mar 2012", t2="\u03a9= -13.6; p > 0.9999",
         top=("119", "135", ","), bot=("109", "125", ", "),
         label="d) 18-25 Apr 2012; Deployment 7", label_xy=(8, 1496), rel_x=942, rate_w=2.4),
]

# ============================ BUILD ============================
axis_n = {"x": 0, "y": 0}


def new_axis(kind):
    axis_n[kind] += 1
    n = axis_n[kind]
    ref = kind if n == 1 else f"{kind}{n}"
    key = f"{kind}axis" if n == 1 else f"{kind}axis{n}"
    return ref, key


def to_dates(start, hours):
    base = pd.Timestamp(start)
    return [(base + pd.Timedelta(hours=float(h))).strftime("%Y-%m-%d %H:%M:%S") for h in hours]


def unzip(pairs):
    return [p[0] for p in pairs], [p[1] for p in pairs]


fig = go.Figure()
axes = {}
shapes = []
ann = []


def text(x, y, s, size, color=INK, angle=0, xanchor="center", yanchor="middle", bold=False):
    if bold:
        s = f"<b>{s}</b>"
    ann.append(dict(x=fx(x), y=fy(y), xref="paper", yref="paper", text=s, showarrow=False,
                    font=dict(size=size, color=color, family=FONT), textangle=angle,
                    xanchor=xanchor, yanchor=yanchor))


def night_spans(sunrise, sunset):
    spans = [(0.0, sunrise)]
    for d in range(7):
        spans.append((d * 24 + sunset, min((d + 1) * 24 + sunrise, 168.0)))
    return spans


def grid_minor(vals):
    return dict(tickvals=vals, showgrid=True, gridcolor=GRID, griddash=GDASH, gridwidth=1, ticks="")


def time_axes(cfg, box, frame, show_labels, left_range, left_ticks, left_minor, left_color,
              right_range, right_ticks, right_color, right_pos):
    x0, x1, y0, y1 = box
    xr, xk = new_axis("x")
    yl, ylk = new_axis("y")
    yrr, yrk = new_axis("y")
    day_dates = to_dates(cfg["start"], [24 * i for i in range(8)])
    axes[xk] = dict(domain=[fx(x0), fx(x1)], anchor=yl, type="date",
                    range=[day_dates[0], day_dates[-1]], tickvals=day_dates,
                    ticktext=cfg["ticks"], showticklabels=show_labels,
                    showgrid=True, gridcolor=GRID, griddash=GDASH, gridwidth=1,
                    showline=True, mirror=True, linecolor=frame, linewidth=1.6,
                    ticks="", ticklabelstandoff=5, tickfont=dict(size=17, color=INK), zeroline=False)
    ydict = dict(domain=[fy(y1), fy(y0)], anchor=xr, range=list(left_range),
                 tickvals=left_ticks, showgrid=True, gridcolor=GRID, griddash=GDASH, gridwidth=1,
                 showline=True, mirror=True, linecolor=frame, linewidth=1.6, ticks="",
                 tickfont=dict(size=17, color=left_color), zeroline=False)
    if left_minor is not None:
        ydict["minor"] = grid_minor(left_minor)
    axes[ylk] = ydict
    axes[yrk] = dict(overlaying=yl, side="right", anchor="free", position=fx(right_pos),
                     range=list(right_range), tickvals=right_ticks, showgrid=False,
                     showline=True, linecolor=right_color, linewidth=1, ticks="outside",
                     ticklen=3, tickcolor=right_color, tickfont=dict(size=17, color=right_color),
                     zeroline=False)
    # night shading
    for a, b in night_spans(cfg["sunrise"], cfg["sunset"]):
        da, db = to_dates(cfg["start"], [a, b])
        shapes.append(dict(type="rect", xref=xr, yref=f"{yl} domain", x0=da, x1=db, y0=0, y1=1,
                           fillcolor=NIGHT_FILL, line=dict(color="#5a5a5a", width=1.2), layer="below"))
    return xr, yl, yrr


for cfg in ROWS:
    # ---------------- Panel I : snap rate + water temperature ----------------
    xr, yl, yt = time_axes(cfg, cfg["I"], cfg["frame"], True, cfg["rate_range"], cfg["rate_ticks"],
                           None, INK, cfg["temp_range"], cfg["temp_ticks"], BLUE, cfg["temp_pos"])
    h, v = unzip(cfg["rate"])
    fig.add_trace(go.Scatter(x=to_dates(cfg["start"], h), y=v, mode="lines", xaxis=xr, yaxis=yl,
                             line=dict(color=INK, width=cfg["rate_w"])))
    h, v = unzip(cfg["temp"])
    fig.add_trace(go.Scatter(x=to_dates(cfg["start"], h), y=v, mode="lines", xaxis=xr, yaxis=yt,
                             line=dict(color=BLUE, width=2.6, dash="10px,6px")))

    # ---------------- Panel III : SPL + median snap amplitude ----------------
    xr3, yl3, ya3 = time_axes(cfg, cfg["III"], INK, False, cfg["spl_range"], cfg["spl_ticks"],
                              cfg["spl_minor"], BROWN, cfg["amp_range"], cfg["amp_ticks"], GREEN,
                              cfg["amp_pos"])
    h, v = unzip(cfg["spl"])
    fig.add_trace(go.Scatter(x=to_dates(cfg["start"], h), y=v, mode="lines", xaxis=xr3, yaxis=yl3,
                             line=dict(color=BROWN, width=3.0)))
    h, v = unzip(cfg["amp"])
    fig.add_trace(go.Scatter(x=to_dates(cfg["start"], h), y=v, mode="lines", xaxis=xr3, yaxis=ya3,
                             line=dict(color=GREEN, width=3.4, dash="8px,5px")))

    # ---------------- Panel II : daily cycle ----------------
    x0, x1, y0, y1 = cfg["II"]
    x2, x2k = new_axis("x")
    yb, ybk = new_axis("y")
    ys, ysk = new_axis("y")
    yg, ygk = new_axis("y")
    axes[x2k] = dict(domain=[fx(x0), fx(x1)], anchor=yb, range=[0, 24], tickvals=HOUR_TICKS,
                     ticktext=HOUR_TEXT, showgrid=True, gridcolor=GRID, griddash=GDASH, gridwidth=1,
                     minor=grid_minor([3, 9, 15, 21]), ticklabelstandoff=-3,
                     showline=True, mirror=True, linecolor=INK, linewidth=1.6, ticks="",
                     tickfont=dict(size=18, color=INK), zeroline=False)
    axes[ybk] = dict(domain=[fy(y1), fy(y0)], anchor=x2, range=[0.2, 1.05], tickvals=REL_TICKS,
                     ticktext=REL_TEXT, showgrid=True, gridcolor=GRID, griddash=GDASH, gridwidth=1,
                     showline=True, mirror=True, linecolor=INK, linewidth=1.6, ticks="",
                     tickfont=dict(size=18, color=INK), zeroline=False)
    axes[ysk] = dict(overlaying=yb, side="right", anchor="free", position=fx(cfg["ii_pos"]),
                     range=list(cfg["ii_spl"]), tick0=cfg["ii_spl"][0], dtick=1, ticks="inside",
                     ticklen=5, tickcolor=BROWN, showticklabels=False, showline=True,
                     linecolor="#4a4a4a", linewidth=1, showgrid=False, zeroline=False)
    axes[ygk] = dict(overlaying=yb, anchor=x2, range=list(cfg["ii_amp"]), visible=False)

    bar_x = np.arange(len(cfg["bars"])) * 0.5 + 0.25
    fig.add_trace(go.Bar(x=bar_x, y=cfg["bars"], xaxis=x2, yaxis=yb, width=0.28,
                         marker=dict(color="#b5b5b5", line=dict(width=0))))
    hx = np.linspace(0.2, 23.5, len(cfg["hspl"]))
    fig.add_trace(go.Scatter(x=hx, y=cfg["hspl"], mode="lines", xaxis=x2, yaxis=ys,
                             line=dict(color=BROWN, width=4)))
    fig.add_trace(go.Scatter(x=hx, y=cfg["hamp"], mode="lines", xaxis=x2, yaxis=yg,
                             line=dict(color=GREEN, width=4.5, dash="10px,5px")))
    for a, b in cfg["night"]:
        shapes.append(dict(type="rect", xref=x2, yref=yb, x0=a, x1=b, y0=1.008, y1=1.05,
                           fillcolor="#141414", line=dict(width=0), layer="above",
                           label=dict(text="Night", font=dict(color="#ffffff", size=13, family=FONT),
                                      textposition="middle center")))

    # ---------------- texts ----------------
    ix0, ix1, iy0, iy1 = cfg["I"]
    jx0, jx1, jy0, jy1 = cfg["III"]
    text(ix0 + 8, iy0 + 15, "I.", 16, bold=True, xanchor="left")
    text(jx0 + 5, jy0 + 16, "III.", 16, bold=True, xanchor="left")
    text(18, (iy0 + iy1) / 2, "Rate (snaps/min)", 20, INK, angle=-90)
    text(20, (jy0 + jy1) / 2, "SPL (dBrms)", 19.5, BROWN, angle=-90)
    text(cfg["temp_pos"] - 19, (iy0 + iy1) / 2 - 6, "Water Temp. (<sup>o</sup>C)", 18.5, BLUE, angle=-90)
    text(cfg["amp_pos"] - 19, (jy0 + jy1) / 2 + 8, "Med Snap Amp.", 19.5, GREEN, angle=-90)
    lx, ly = cfg["label_xy"]
    text(lx, ly, cfg["label"], 29, INK, xanchor="left")

    cx = (x0 + x1) / 2
    text(cx - 8, y0 - 52, cfg["t1"], 22.5, INK)
    text(cx - 8, y0 - 24, cfg["t2"], 22.5, INK)
    text(cfg["rel_x"], (y0 + y1) / 2 + 5, "Relative Snap Rate", 19.5, INK, angle=-90)
    text(cx, y1 + 37, "Hour of day (EST)", 19.5, INK)
    rp = cfg["ii_pos"]
    t = cfg["top"]
    text(rp + 6, y0 - 2, f'<span style="color:{BROWN}">{t[0]}</span>{t[2]}<span style="color:{GREEN}">{t[1]}</span>',
         18, INK, xanchor="left")
    t = cfg["bot"]
    text(rp + 6, y1 - 11, f'<span style="color:{BROWN}">{t[0]}</span>{t[2]}<span style="color:{GREEN}">{t[1]}</span>',
         18, INK, xanchor="left")
    text(rp + 29, (y0 + y1) / 2 - 4, "Background\u00a0 SPL", 18, BROWN, angle=-90)
    text(rp + 60, (y0 + y1) / 2 - 8, "Med. Snap. Amp.", 18, GREEN, angle=-90)

fig.update_layout(
    width=W, height=H, margin=dict(l=0, r=0, t=0, b=0, pad=0, autoexpand=False),
    paper_bgcolor="white", plot_bgcolor="white",
    font=dict(family=FONT, color=INK), showlegend=False,
    shapes=shapes, annotations=ann, bargap=0.4,
    **axes,
)

# the page's default 8px body margin would offset the fixed-size figure; remove it
fig.write_html("out.html",
               config={"displayModeBar": False},
               post_script="document.body.style.margin='0px';"
                           "document.documentElement.style.overflow='hidden';")
